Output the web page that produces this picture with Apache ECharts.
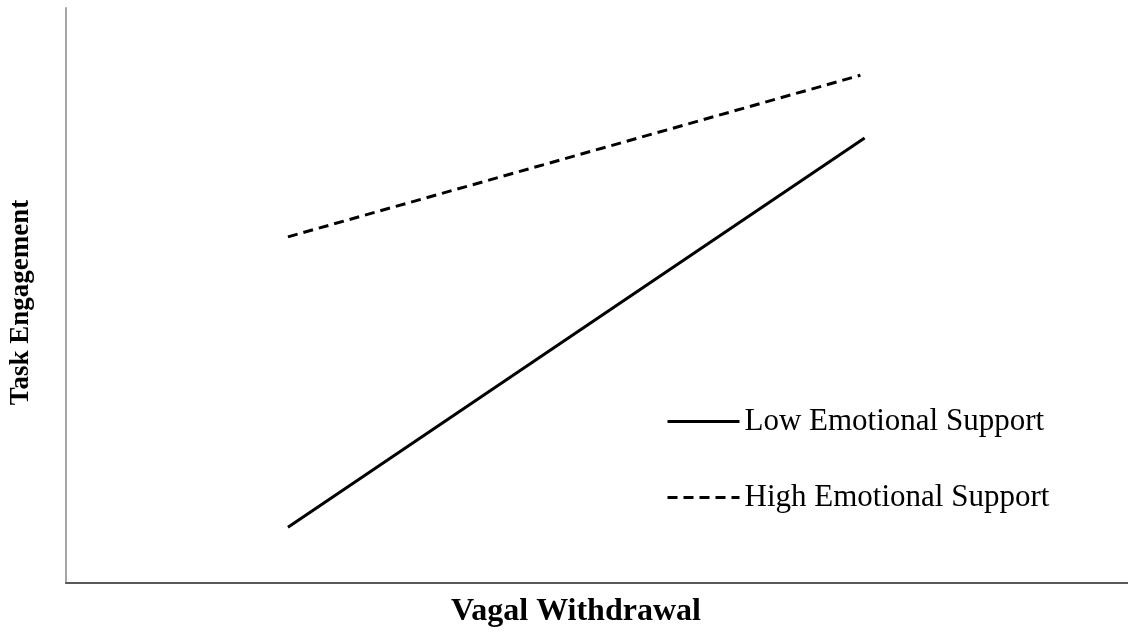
<!DOCTYPE html>
<html>
<head>
<meta charset="utf-8">
<script src="https://cdn.jsdelivr.net/npm/echarts@6/dist/echarts.min.js"></script>
<style>
  html, body { margin: 0; padding: 0; background: #fff; }
  #chart { width: 1128px; height: 634px; }
</style>
</head>
<body>
<div id="chart"></div>
<script>
// simple slopes: x = vagal withdrawal (low / high), y = task engagement
const lowX = [20.9, 75.2];
const lowY = [9.7, 77.4];
const highX = [20.9, 74.8];
const highY = [60.2, 88.3];
const seriesNames = ["Low Emotional Support", "High Emotional Support"];

const toPairs = (xs, ys) => xs.map((x, i) => [x, ys[i]]);

const chart = echarts.init(document.getElementById("chart"));
chart.setOption({
  animation: false,
  grid: { left: 66, right: 0, top: 8, bottom: 51, outerBoundsMode: "none" },
  legend: {
    orient: "vertical",
    left: 661,
    top: 401,
    itemWidth: 72,
    itemHeight: 14,
    itemGap: 45,
    itemStyle: { opacity: 0 },
    lineStyle: { width: 3 },
    textStyle: { fontFamily: "Liberation Serif", fontSize: 31, color: "#000" },
    data: seriesNames
  },
  xAxis: {
    type: "value",
    min: 0,
    max: 100,
    name: "Vagal Withdrawal",
    nameLocation: "middle",
    nameGap: 13,
    nameTextStyle: { fontFamily: "Liberation Serif", fontWeight: "bold", fontSize: 32, color: "#000", padding: [0, 42, 0, 0] },
    axisLine: { lineStyle: { color: "#595959", width: 2 } },
    axisTick: { show: false },
    axisLabel: { show: false },
    splitLine: { show: false }
  },
  yAxis: {
    type: "value",
    min: 0,
    max: 100,
    name: "Task Engagement",
    nameLocation: "middle",
    nameGap: 31,
    nameTextStyle: { fontFamily: "Liberation Serif", fontWeight: "bold", fontSize: 27, color: "#000", padding: [0, 14, 0, 0] },
    axisLine: { show: true, lineStyle: { color: "#a6a6a6", width: 2 } },
    axisTick: { show: false },
    axisLabel: { show: false },
    splitLine: { show: false }
  },
  series: [
    {
      name: seriesNames[0],
      type: "line",
      symbol: "none",
      lineStyle: { color: "#000", width: 3, type: "solid" },
      itemStyle: { color: "#000" },
      data: toPairs(lowX, lowY)
    },
    {
      name: seriesNames[1],
      type: "line",
      symbol: "none",
      lineStyle: { color: "#000", width: 3, type: [10, 6] },
      itemStyle: { color: "#000" },
      data: toPairs(highX, highY)
    }
  ]
});
</script>
</body>
</html>
